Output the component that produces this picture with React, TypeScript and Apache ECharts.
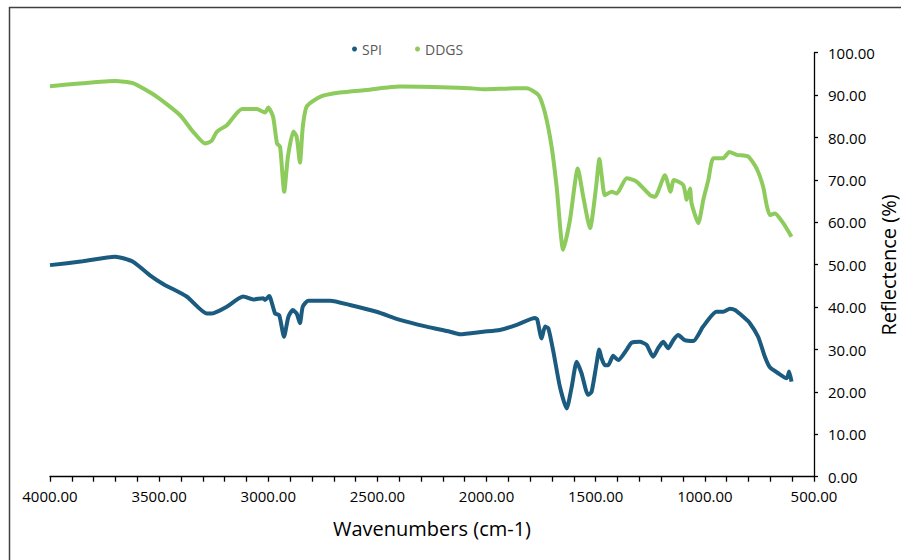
import React, { useEffect, useRef } from "react";
import * as echarts from "echarts";

const seriesNames = ["SPI", "DDGS"];

const spiWavenumbers = [
  4000, 3850, 3702, 3620, 3542, 3480, 3374, 3282, 3250, 3190, 3115, 3069, 3023, 3015, 2996, 2969,
  2950, 2928, 2908, 2888, 2870, 2855, 2842, 2817, 2717, 2626, 2504, 2397, 2275, 2168, 2122, 2015,
  1939, 1862, 1778, 1768, 1748, 1732, 1717, 1694, 1664, 1633, 1610, 1587, 1565, 1535, 1519, 1496,
  1484, 1473, 1458, 1443, 1420, 1397, 1359, 1336, 1298, 1267, 1237, 1214, 1191, 1168, 1145, 1122,
  1092, 1053, 1008, 947, 916, 885, 862, 824, 794, 756, 725, 702, 664, 625, 614, 603,
];
const spiValues = [
  49.9, 50.8, 51.9, 50.7, 47.5, 45.4, 42.5, 38.5, 38.6, 40.1, 42.5, 41.8, 42.1, 41.7, 42.6, 38.5,
  38.1, 33.0, 37.7, 39.3, 38.5, 36.2, 40.1, 41.5, 41.5, 40.5, 38.9, 37.0, 35.4, 34.2, 33.6, 34.2,
  34.6, 35.8, 37.4, 37.1, 32.6, 35.4, 35.0, 29.5, 21.2, 16.1, 21.2, 27.1, 24.4, 19.3, 20.0, 26.7,
  30.0, 27.9, 26.3, 26.3, 28.5, 27.5, 29.9, 31.6, 31.8, 31.1, 28.3, 30.3, 31.8, 30.3, 32.2, 33.4,
  32.2, 32.0, 35.4, 38.9, 38.9, 39.6, 39.3, 37.7, 36.2, 33.0, 28.3, 25.8, 24.4, 23.2, 24.8, 22.4,
];

const ddgsWavenumbers = [
  4000, 3849, 3702, 3620, 3510, 3405, 3345, 3290, 3260, 3235, 3190, 3120, 3052, 3015, 3000, 2978,
  2960, 2946, 2927, 2910, 2885, 2870, 2855, 2842, 2824, 2763, 2672, 2550, 2397, 2168, 2076, 2015,
  1862, 1816, 1762, 1732, 1702, 1679, 1649, 1618, 1582, 1557, 1526, 1500, 1483, 1472, 1458, 1427,
  1404, 1358, 1313, 1251, 1229, 1183, 1157, 1142, 1099, 1083, 1068, 1061, 1030, 1007, 984, 961,
  916, 888, 854, 801, 763, 733, 717, 702, 679, 641, 603,
];
const ddgsValues = [
  92.1, 92.8, 93.3, 92.8, 89.6, 85.3, 81.4, 78.6, 79.2, 81.4, 82.9, 86.7, 86.7, 85.9, 87.1, 84.9,
  78.6, 77.8, 67.2, 75.5, 81.4, 80.2, 74.1, 82.5, 87.3, 89.6, 90.6, 91.2, 92.0, 91.8, 91.6, 91.4,
  91.6, 91.6, 90.0, 85.7, 77.8, 68.4, 53.5, 60.5, 72.7, 66.0, 58.6, 67.6, 74.9, 70.8, 66.4, 67.2,
  66.8, 70.4, 69.6, 66.4, 66.0, 71.1, 67.2, 70.0, 68.8, 65.3, 68.0, 64.5, 59.8, 65.3, 70.0, 75.1,
  75.1, 76.6, 75.9, 75.5, 72.7, 68.4, 64.1, 61.7, 62.1, 59.8, 56.6,
];

const xAxisTitle = "Wavenumbers (cm-1)";
const yAxisTitle = "Reflectence (%)";

const FONT = "'Open Sans', 'Noto Sans', sans-serif";

export default function App() {
  const ref = useRef<HTMLDivElement>(null);

  useEffect(() => {
    if (!ref.current) return;
    const chart = echarts.init(ref.current, undefined, { renderer: "svg" });
    const spiData = spiWavenumbers.map((w, i) => [w, spiValues[i]]);
    const ddgsData = ddgsWavenumbers.map((w, i) => [w, ddgsValues[i]]);
    chart.setOption({
      animation: false,
      backgroundColor: "#ffffff",
      textStyle: { fontFamily: FONT },
      legend: {
        data: seriesNames.map((n) => ({ name: n, icon: "circle" })),
        left: 347,
        top: 37,
        itemWidth: 5,
        itemHeight: 5,
        itemGap: 33,
        textStyle: { color: "#595959", fontSize: 14, fontFamily: FONT },
      },
      grid: { left: 50, right: 87, top: 52.7, bottom: 83.3, outerBoundsMode: "none", containLabel: false },
      xAxis: {
        type: "value",
        min: 500,
        max: 4000,
        interval: 500,
        inverse: true,
        name: xAxisTitle,
        nameLocation: "middle",
        nameGap: 42,
        nameTextStyle: { fontSize: 20, color: "#000000", fontFamily: FONT },
        axisLine: { show: true, lineStyle: { color: "#000000", width: 1.3 } },
        axisTick: { show: true, length: 5, lineStyle: { color: "#000000", width: 1.3 } },
        minorTick: { show: true, splitNumber: 5, length: 5, lineStyle: { color: "#000000", width: 1.3 } },
        axisLabel: {
          fontSize: 15,
          color: "#000000",
          margin: 12,
          fontFamily: FONT,
          formatter: (v: number) => v.toFixed(2),
        },
        splitLine: { show: false },
      },
      yAxis: {
        type: "value",
        position: "right",
        min: 0,
        max: 100,
        interval: 10,
        axisLine: { show: true, lineStyle: { color: "#000000", width: 1.3 } },
        axisTick: { show: true, length: 4, lineStyle: { color: "#000000", width: 1.3 } },
        axisLabel: {
          fontSize: 15,
          color: "#000000",
          margin: 14,
          fontFamily: FONT,
          formatter: (v: number) => v.toFixed(2),
        },
        splitLine: { show: false },
      },
      graphic: [
        {
          type: "line",
          shape: { x1: 9, y1: 7.5, x2: 901, y2: 7.5 },
          style: { stroke: "#404040", lineWidth: 1.5 },
        },
        {
          type: "line",
          shape: { x1: 9.5, y1: 7, x2: 9.5, y2: 560 },
          style: { stroke: "#404040", lineWidth: 1.5 },
        },
        {
          type: "text",
          x: 888,
          y: 265,
          rotation: Math.PI / 2,
          style: {
            text: yAxisTitle,
            align: "center",
            verticalAlign: "middle",
            fontSize: 20,
            fontFamily: FONT,
            fill: "#000000",
          },
        },
      ],
      series: [
        {
          name: "SPI",
          type: "line",
          data: spiData,
          showSymbol: false,
          symbol: "circle",
          smooth: 0.2,
          itemStyle: { color: "#1B5B7F" },
          lineStyle: { color: "#1B5B7F", width: 4 },
        },
        {
          name: "DDGS",
          type: "line",
          data: ddgsData,
          showSymbol: false,
          symbol: "circle",
          smooth: 0.2,
          itemStyle: { color: "#8DCB5C" },
          lineStyle: { color: "#8DCB5C", width: 4 },
        },
      ],
    });
    return () => chart.dispose();
  }, []);

  return (
    <div
      ref={ref}
      style={{ position: "fixed", left: 0, top: 0, width: 901, height: 560 }}
    />
  );
}
